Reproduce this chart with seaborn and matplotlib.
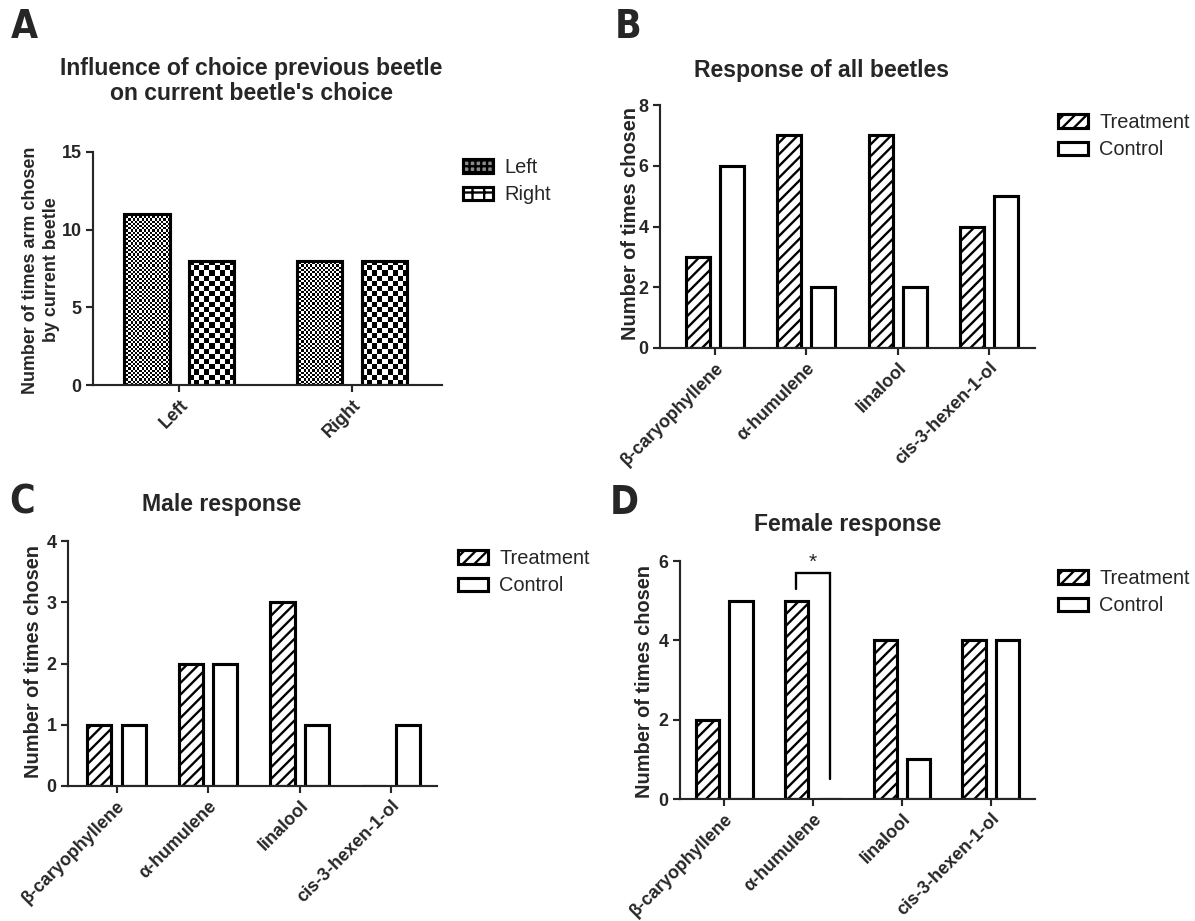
import numpy as np
import pandas as pd
import seaborn as sns
import matplotlib.pyplot as plt
from matplotlib.patches import Patch

# ---- data ----
arm_cats = ['Left', 'Right']
prev_left = [11, 8]
prev_right = [8, 8]

compounds = ['β-caryophyllene', 'α-humulene', 'linalool', 'cis-3-hexen-1-ol']
all_treatment = [3, 7, 7, 4]
all_control = [6, 2, 2, 5]
male_treatment = [1, 2, 3, 0]
male_control = [1, 2, 1, 1]
female_treatment = [2, 5, 4, 4]
female_control = [5, 0, 1, 4]

# significance bracket (panel D)
sig_compound = 'α-humulene'
sig_top = 5.7
sig_left_bottom = 5.3
sig_right_bottom = 0.5

W, H = 1195, 921
DPI = 140

sns.set_style('ticks')
plt.rcParams['font.family'] = ['Liberation Sans', 'DejaVu Sans']
plt.rcParams['hatch.linewidth'] = 1.2

fig = plt.figure(figsize=(W / DPI, H / DPI), dpi=DPI)

TITLE_FS = 11.8
YLAB_FS = 10.3
TICK_FS = 9.2
LEG_FS = 10.3


def rect(l, r, t, b):
    return [l / W, 1 - b / H, (r - l) / W, (b - t) / H]


def bar_panel(ax, cats, s1, s2, names, ylim, yticks, xlim):
    df = pd.DataFrame({'cat': cats * 2, 'val': s1 + s2,
                       'grp': [names[0]] * len(cats) + [names[1]] * len(cats)})
    sns.barplot(data=df, x='cat', y='val', hue='grp', palette=['white', 'white'],
                saturation=1, width=0.75, gap=0.3, edgecolor='black', linewidth=1.6,
                errorbar=None, legend=False, ax=ax)
    ax.set_xlim(*xlim)
    ax.set_ylim(*ylim)
    ax.set_yticks(yticks)
    ax.set_xlabel('')
    ax.set_ylabel('')
    sns.despine(ax=ax)
    for s in ['left', 'bottom']:
        ax.spines[s].set_linewidth(1.1)
    ax.tick_params(axis='both', length=3.8, width=1.1, labelsize=TICK_FS, pad=2)
    ax.tick_params(axis='x', labelrotation=45)
    for lab in ax.get_xticklabels():
        lab.set_ha('right')
        lab.set_rotation_mode('anchor')
        lab.set_fontweight('bold')
    for lab in ax.get_yticklabels():
        lab.set_fontweight('bold')


def legend(ax, handles, names, x, y):
    ax.legend(handles, names, loc='upper left', bbox_to_anchor=(x / W, 1 - y / H),
              bbox_transform=fig.transFigure, frameon=False, fontsize=LEG_FS,
              handlelength=1.5, handleheight=0.68, handletextpad=0.55,
              labelspacing=0.42, borderpad=0, borderaxespad=0)


def checker(ax, bars, cell_px):
    for bar in bars:
        x0, y0 = bar.get_x(), bar.get_y()
        x1, y1 = x0 + bar.get_width(), y0 + bar.get_height()
        p0, p1 = ax.transData.transform([(x0, y0), (x1, y1)])
        nx = max(1, int(round(abs(p1[0] - p0[0]) / cell_px)))
        ny = max(1, int(round(abs(p1[1] - p0[1]) / cell_px)))
        grid = np.add.outer(np.arange(ny), np.arange(nx)) % 2
        ax.imshow(grid, cmap='gray', vmin=0, vmax=1, extent=(x0, x1, y0, y1),
                  aspect='auto', interpolation='nearest', zorder=1.5)
        bar.set_facecolor('none')
        bar.set_zorder(2)


diag = '////'
names_tc = ['Treatment', 'Control']


def tc_handles():
    return [Patch(facecolor='white', edgecolor='black', hatch=diag, linewidth=1.6),
            Patch(facecolor='white', edgecolor='black', linewidth=1.6)]


# ---- A ----
axA = fig.add_axes(rect(93, 442, 152, 385))
bar_panel(axA, arm_cats, prev_left, prev_right, ['Left', 'Right'], (0, 15), [0, 5, 10, 15], (-0.5, 1.52))
checker(axA, axA.containers[0], 2.2)
checker(axA, axA.containers[1], 5.2)
axA.set_xlim(-0.5, 1.52)
axA.set_ylim(0, 15)
legend(axA, [Patch(facecolor='#8a8a8a', edgecolor='black', hatch='++++', linewidth=1.6),
             Patch(facecolor='white', edgecolor='black', hatch='++', linewidth=1.6)],
       ['Left', 'Right'], 463, 158)
fig.text(251 / W, 1 - 81 / H, "Influence of choice previous beetle\non current beetle's choice",
         ha='center', va='center', fontsize=TITLE_FS, fontweight='bold', linespacing=1.15)
fig.text(41 / W, 1 - 270 / H, 'Number of times arm chosen\nby current beetle', rotation=90,
         ha='center', va='center', fontsize=9.2, fontweight='bold', linespacing=1.3)

# ---- B ----
axB = fig.add_axes(rect(660, 1035, 105, 348))
bar_panel(axB, compounds, all_treatment, all_control, names_tc, (0, 8), [0, 2, 4, 6, 8], (-0.6, 3.5))
for bar in axB.containers[0]:
    bar.set_hatch(diag)
legend(axB, tc_handles(), names_tc, 1058, 113)
fig.text(821 / W, 1 - 71 / H, 'Response of all beetles', ha='center', va='center',
         fontsize=TITLE_FS, fontweight='bold')
fig.text(631 / W, 1 - 223 / H, 'Number of times chosen', rotation=90,
         ha='center', va='center', fontsize=YLAB_FS, fontweight='bold')

# ---- C ----
axC = fig.add_axes(rect(68, 437, 541, 786))
bar_panel(axC, compounds, male_treatment, male_control, names_tc, (0, 4), [0, 1, 2, 3, 4], (-0.53, 3.5))
for bar in axC.containers[0]:
    bar.set_hatch(diag)
legend(axC, tc_handles(), names_tc, 458, 549)
fig.text(222 / W, 1 - 505 / H, 'Male response', ha='center', va='center',
         fontsize=TITLE_FS, fontweight='bold')
fig.text(34 / W, 1 - 661 / H, 'Number of times chosen', rotation=90,
         ha='center', va='center', fontsize=YLAB_FS, fontweight='bold')

# ---- D ----
axD = fig.add_axes(rect(680, 1035, 561, 799))
bar_panel(axD, compounds, female_treatment, female_control, names_tc, (0, 6), [0, 2, 4, 6], (-0.5, 3.5))
for bar in axD.containers[0]:
    bar.set_hatch(diag)
legend(axD, tc_handles(), names_tc, 1058, 569)
fig.text(848 / W, 1 - 524 / H, 'Female response', ha='center', va='center',
         fontsize=TITLE_FS, fontweight='bold')
fig.text(645 / W, 1 - 681 / H, 'Number of times chosen', rotation=90,
         ha='center', va='center', fontsize=YLAB_FS, fontweight='bold')

# bracket from the two bars of the significant compound
i = compounds.index(sig_compound)
bl = axD.containers[0][i]
br = axD.containers[1][i]
xl = bl.get_x() + bl.get_width() / 2
xr = br.get_x() + br.get_width() / 2
axD.plot([xl, xl, xr, xr], [sig_left_bottom, sig_top, sig_top, sig_right_bottom],
         color='black', lw=1.2, clip_on=False, solid_joinstyle='miter')
axD.text((xl + xr) / 2, sig_top + 0.03, '*', ha='center', va='bottom', fontsize=11)

# panel letters
for letter, x, y in [('A', 24, 27), ('B', 628, 27), ('C', 22, 502), ('D', 624, 503)]:
    fig.text(x / W, 1 - y / H, letter, ha='center', va='center', fontsize=20,
             fontweight='bold', fontstretch='condensed',
             family=['Liberation Sans Narrow', 'DejaVu Sans'])

fig.savefig('out.png', dpi=DPI)
